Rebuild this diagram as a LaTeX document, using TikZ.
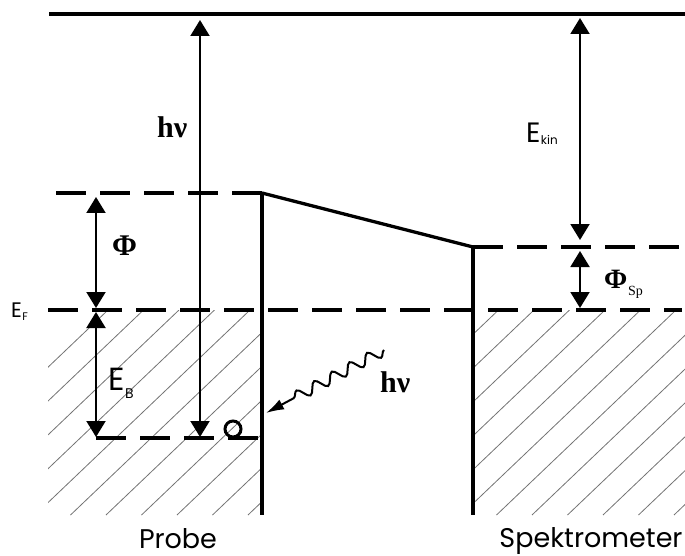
\documentclass[tikz,border=0pt]{standalone}
\usepackage{fontspec}
\setmainfont{Liberation Serif}
\newfontfamily\gothic{Poppins}
\usetikzlibrary{arrows.meta,decorations.pathmorphing}
\begin{document}
\begin{tikzpicture}[x=1pt,y=-1pt,
  solidlevel/.style={line width=3.3pt},
  dashlevel/.style={line width=3.3pt, dash pattern=on 30pt off 14pt},
  meas/.style={line width=2pt, {Triangle[width=19pt,length=16pt]}-{Triangle[width=19pt,length=16pt]}},
  hatchline/.style={black!55, line width=0.8pt},
  greek/.style={font=\bfseries\fontsize{30}{30}\selectfont, inner sep=0pt, anchor=base west},
  gtxt/.style={inner sep=0pt, anchor=base west},
  photon/.style={line width=2pt, decorate, decoration={snake, segment length=20pt, amplitude=5.5pt, post length=22pt}},
]
\useasboundingbox (0,0) rectangle (685,556);

% hatching
\begin{scope}
  \clip (48,310) rectangle (262,515);
  \foreach \k in {-8,...,6} \draw[hatchline] ({177+35.5*\k},515) -- ({177+35.5*\k+215},310);
\end{scope}
\begin{scope}
  \clip (473,310) rectangle (685,515);
  \foreach \k in {0,...,16} \draw[hatchline] ({177+35.5*\k},515) -- ({177+35.5*\k+215},310);
\end{scope}

% coordinates
\coordinate (topL) at (49,14);
\coordinate (topR) at (685,14);
\coordinate (vacL) at (56,193);
\coordinate (vacS) at (262,193);
\coordinate (sBot) at (262,515);
\coordinate (vacSp) at (473,247);
\coordinate (spBot) at (473,515);
\coordinate (vacSpR) at (682,247);
\coordinate (efL) at (48,310);
\coordinate (efR) at (682,310);
\coordinate (coreL) at (96,438);
\coordinate (coreR) at (262,438);

% levels
\draw[line width=4pt] (topL) -- (topR);
\draw[dashlevel] (vacL) -- (vacS);
\draw[solidlevel] (vacS) -- (vacSp);
\draw[solidlevel] (vacS) -- (sBot);
\draw[solidlevel] (vacSp) -- (spBot);
\draw[dashlevel] (vacSp) -- (vacSpR);
\draw[dashlevel] (efL) -- (efR);
\draw[dashlevel] (coreL) -- (coreR);

% measurement arrows
\coordinate (phiT) at (96,197);
\coordinate (phiB) at (96,308);
\coordinate (ebT) at (96,312);
\coordinate (ebB) at (96,437);
\coordinate (hvT) at (200,20);
\coordinate (hvB) at (200,437);
\coordinate (ekT) at (580,18);
\coordinate (ekB) at (580,240);
\coordinate (spT) at (580,251);
\coordinate (spB) at (580,308);
\draw[meas] (phiT) -- (phiB);
\draw[meas] (ebT) -- (ebB);
\draw[meas] (hvT) -- (hvB);
\draw[meas] (ekT) -- (ekB);
\draw[meas] (spT) -- (spB);

% electron
\node[circle, draw, line width=3pt, minimum size=16pt, inner sep=0pt] (el) at (233,429) {};

% photon
\coordinate (phS) at (384,350);
\coordinate (phE) at (266,413);
\draw[photon, -{Latex[width=11pt,length=18pt]}] (phS) -- (phE);

% labels
\node[greek] (hv1) at (157,138) {hν};
\node[greek] (hv2) at (380,392) {hν};
\node[greek] (phi) at (112,255) {Φ};
\node[greek, font=\bfseries\fontsize{28}{28}\selectfont] (phisp) at (604,288) {Φ};
\node[inner sep=0pt, anchor=base west, font=\fontsize{14}{14}\selectfont] (sp) at (628,295) {Sp};

\node[gtxt, font=\gothic\fontsize{21}{21}\selectfont] (ef) at (11,317) {E};
\node[gtxt, font=\gothic\fontsize{11}{11}\selectfont] (efs) at ([yshift=-3pt]ef.base east) {F};
\node[gtxt, font=\gothic\fontsize{32}{32}\selectfont] (eb) at (108,390) {E};
\node[gtxt, font=\gothic\fontsize{14}{14}\selectfont] (ebs) at ([yshift=-8pt]eb.base east) {B};
\node[gtxt, font=\gothic\fontsize{28}{28}\selectfont] (ek) at (526,143) {E};
\node[gtxt, font=\gothic\fontsize{12}{12}\selectfont] (eks) at ([yshift=-2pt]ek.base east) {kin};

\node[inner sep=0pt, anchor=base, font=\gothic\fontsize{27}{27}\selectfont] (probe) at (178,548) {Probe};
\node[inner sep=0pt, anchor=base, font=\gothic\fontsize{27}{27}\selectfont] (spek) at (591,547) {Spektrometer};
\end{tikzpicture}
\end{document}
